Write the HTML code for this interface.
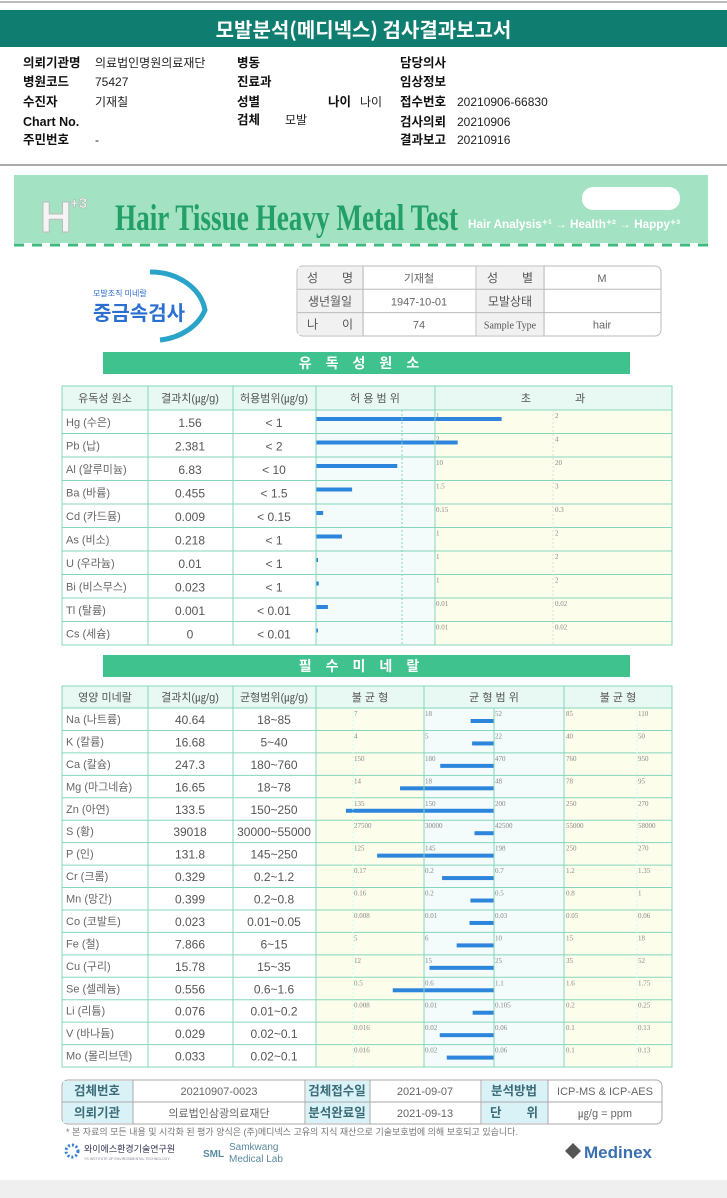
<!DOCTYPE html>
<html><head><meta charset="utf-8">
<style>
body{margin:0;width:727px;height:1198px;background:#fff;position:relative;overflow:hidden;font-family:"Liberation Sans","Noto Sans CJK KR",sans-serif;}
.abs{position:absolute;white-space:nowrap}
.lab{font-weight:bold;font-size:12.5px;color:#111;line-height:16px}
.val{font-size:12px;color:#222;line-height:16px}
</style></head><body>
<div class="abs" style="left:0;top:1px;width:727px;height:2px;background:#bbb"></div>
<div class="abs" style="left:0;top:10px;width:727px;height:37px;background:#0f7d6f;color:#fff;font-size:20px;font-weight:bold;text-align:center;line-height:37px;font-family:'Noto Sans CJK KR',sans-serif">모발분석(메디넥스) 검사결과보고서</div>
<div>
<span class="abs lab" style="left:23px;top:55px">의뢰기관명</span><span class="abs val" style="left:95px;top:55px">의료법인명원의료재단</span>
<span class="abs lab" style="left:23px;top:74px">병원코드</span><span class="abs val" style="left:95px;top:74px">75427</span>
<span class="abs lab" style="left:23px;top:94px">수진자</span><span class="abs val" style="left:95px;top:94px">기재칠</span>
<span class="abs lab" style="left:23px;top:114px">Chart No.</span>
<span class="abs lab" style="left:23px;top:132px">주민번호</span><span class="abs val" style="left:95px;top:132px">-</span>
<span class="abs lab" style="left:237px;top:55px">병동</span>
<span class="abs lab" style="left:237px;top:74px">진료과</span>
<span class="abs lab" style="left:237px;top:94px">성별</span>
<span class="abs lab" style="left:328px;top:94px">나이</span><span class="abs val" style="left:360px;top:94px">나이</span>
<span class="abs lab" style="left:237px;top:112px">검체</span><span class="abs val" style="left:285px;top:112px">모발</span>
<span class="abs lab" style="left:400px;top:55px">담당의사</span>
<span class="abs lab" style="left:400px;top:74px">임상정보</span>
<span class="abs lab" style="left:400px;top:94px">접수번호</span><span class="abs val" style="left:457px;top:94px">20210906-66830</span>
<span class="abs lab" style="left:400px;top:114px">검사의뢰</span><span class="abs val" style="left:457px;top:114px">20210906</span>
<span class="abs lab" style="left:400px;top:132px">결과보고</span><span class="abs val" style="left:457px;top:132px">20210916</span>
</div>
<div class="abs" style="left:0;top:164px;width:727px;height:2px;background:#aaa"></div>
<div class="abs" style="left:0;top:1180px;width:727px;height:18px;background:#efefef"></div>

<svg id="chart" class="abs" style="left:0;top:0" width="727" height="1198" font-family="Liberation Sans, Noto Sans CJK KR, sans-serif"></svg>

<script>
const toxNames=["Hg (수은)","Pb (납)","Al (알루미늄)","Ba (바륨)","Cd (카드뮴)","As (비소)","U (우라늄)","Bi (비스무스)","Tl (탈륨)","Cs (세슘)"];
const toxValues=[1.56,2.381,6.83,0.455,0.009,0.218,0.01,0.023,0.001,0];
const toxLimits=[1,2,10,1.5,0.15,1,1,1,0.01,0.01];
const toxLimitLabels=["< 1","< 2","< 10","< 1.5","< 0.15","< 1","< 1","< 1","< 0.01","< 0.01"];
const toxTick2=["2","4","20","3","0.3","2","2","2","0.02","0.02"];

const minNames=["Na (나트륨)","K (칼륨)","Ca (칼슘)","Mg (마그네슘)","Zn (아연)","S (황)","P (인)","Cr (크롬)","Mn (망간)","Co (코발트)","Fe (철)","Cu (구리)","Se (셀레늄)","Li (리튬)","V (바나듐)","Mo (몰리브덴)"];
const minValues=[40.64,16.68,247.3,16.65,133.5,39018,131.8,0.329,0.399,0.023,7.866,15.78,0.556,0.076,0.029,0.033];
const minRanges=["18~85","5~40","180~760","18~78","150~250","30000~55000","145~250","0.2~1.2","0.2~0.8","0.01~0.05","6~15","15~35","0.6~1.6","0.01~0.2","0.02~0.1","0.02~0.1"];
const minTicks=[[7,18,52,85,110],[4,5,22,40,50],[150,180,470,760,950],[14,18,48,78,95],[135,150,200,250,270],[27500,30000,42500,55000,58000],[125,145,198,250,270],[0.17,0.2,0.7,1.2,1.35],[0.16,0.2,0.5,0.8,1],[0.008,0.01,0.03,0.05,0.06],[5,6,10,15,18],[12,15,25,35,52],[0.5,0.6,1.1,1.6,1.75],[0.008,0.01,0.105,0.2,0.25],[0.016,0.02,0.06,0.1,0.13],[0.016,0.02,0.06,0.1,0.13]];

const svg=document.getElementById('chart');
const NS='http://www.w3.org/2000/svg';
function mk(tag,attrs,txt,name){const e=document.createElementNS(NS,tag);for(const k in attrs)e.setAttribute(k,attrs[k]);if(txt!==undefined)e.textContent=txt;


svg.appendChild(e);return e;}
const G='#86d6bb', TXT='#555', BAR='#2e86dc';

// banner
mk('rect',{x:14,y:175,width:694,height:68,fill:'#a3e2c3'},undefined,'banner');
mk('text',{x:40,y:232,'font-size':44,'font-weight':'bold',fill:'#f4f4f4',stroke:'#bbb','stroke-width':1},'H','banner-h-logo');
mk('text',{x:70,y:208,'font-size':15,'font-weight':'bold',fill:'#f4f4f4',stroke:'#aaa','stroke-width':0.5},'+3','banner-h-sup');
mk('text',{x:115,y:230,'font-size':37,'font-weight':'bold',fill:'#22a068','font-family':'Liberation Serif, serif',textLength:343,lengthAdjust:'spacingAndGlyphs'},'Hair Tissue Heavy Metal Test','banner-title');
mk('text',{x:468,y:228,'font-size':12,'font-weight':'bold',fill:'#fff',textLength:212,lengthAdjust:'spacingAndGlyphs'},'Hair Analysis⁺¹ → Health⁺² → Happy⁺³','banner-slogan');
mk('rect',{x:582,y:187,width:98,height:23,rx:11,fill:'#fff'},undefined,'banner-badge');
mk('line',{x1:14,y1:245,x2:708,y2:245,stroke:'#3dbb7e','stroke-width':3,'stroke-dasharray':'10 8'},undefined,'banner-dashes');

// logo
mk('path',{d:'M150 272 A55 45 0 0 1 205 310 A55 45 0 0 1 160 340',fill:'none',stroke:'#2aa3c8','stroke-width':5},undefined,'logo-arc');
mk('text',{x:93,y:296,'font-size':8,fill:'#2b6fd0'},'모발조직 미네랄','logo-subtitle');
mk('text',{x:93,y:320,'font-size':20,'font-weight':'bold',fill:'#2b6fd0'},'중금속검사','logo-title');

// patient table
mk('rect',{x:297,y:266,width:364,height:70,rx:6,fill:'#fff',stroke:'#bbb'},undefined,'patient-table');
[[297,363],[476,544]].forEach(c=>mk('rect',{x:c[0]+1,y:267,width:c[1]-c[0],height:68,fill:'#f1f1f1'},undefined,'patient-label-col'));
[363,476,544].forEach(x=>mk('line',{x1:x,y1:266,x2:x,y2:336,stroke:'#bbb'},undefined,'patient-col-line'));
[289.3,312.6].forEach(y=>mk('line',{x1:297,y1:y,x2:661,y2:y,stroke:'#bbb'},undefined,'patient-row-line'));
const pRows=[["성　　명","기재철","성　　별","M"],["생년월일","1947-10-01","모발상태",""],["나　　이","74","Sample Type","hair"]];
const pCx=[330,419,510,602];
pRows.forEach((r,i)=>r.forEach((t,j)=>mk('text',{x:pCx[j],y:282+i*23.3,'font-size':j%2?11:(t==='Sample Type'?10:12),'text-anchor':'middle',fill:j%2?'#666':'#555','font-family':t==='Sample Type'?'Liberation Serif, serif':'Liberation Sans, Noto Sans CJK KR, sans-serif'},t,'patient-cell')));

// section bars
function section(y,t,name){mk('rect',{x:103,y:y,width:527,height:22,fill:'#3fc28d'},undefined,name);
mk('text',{x:366,y:y+16,'font-size':14,'font-weight':'bold',fill:'#fff','text-anchor':'middle','letter-spacing':'14'},t,name+'-label');}
section(352,'유독성원소','toxic-section-header');
section(655,'필수미네랄','mineral-section-header');

// ---- toxic table
const TT=386,TH=24,TR=23.5,TL=62,TRt=672;
const tCols=[62,148,233,316,435,672];
const tN=toxNames.length, tBot=TT+TH+tN*TR;
mk('rect',{x:TL,y:TT,width:TRt-TL,height:TH,fill:'#e8f8f3'},undefined,'toxic-header-row');
mk('rect',{x:435,y:TT+TH,width:237,height:tN*TR,fill:'#fdfdec'},undefined,'toxic-excess-zone');
mk('rect',{x:316,y:TT+TH,width:119,height:tN*TR,fill:'#f3fbfb'},undefined,'toxic-allowed-zone');
const tHead=["유독성 원소","결과치(㎍/g)","허용범위(㎍/g)","허 용 범 위","초　　　　과"];
const tHx=[105,190,274,375,553];
tHead.forEach((t,i)=>mk('text',{x:tHx[i],y:TT+16,'font-size':11,fill:TXT,'text-anchor':'middle'},t,'toxic-column-header'));
const SC=119;
function tx(v,lim){return 316+v/lim*SC;}
for(let i=0;i<tN;i++){
 const y=TT+TH+i*TR;
 mk('line',{x1:TL,y1:y,x2:TRt,y2:y,stroke:G},undefined,'toxic-row-line');
 mk('text',{x:66,y:y+16,'font-size':11,fill:'#666'},toxNames[i],'toxic-element-name');
 mk('text',{x:190,y:y+17,'font-size':12,fill:TXT,'text-anchor':'middle'},String(toxValues[i]),'toxic-value');
 mk('text',{x:274,y:y+17,'font-size':12,fill:TXT,'text-anchor':'middle'},toxLimitLabels[i],'toxic-limit');
 mk('text',{x:tx(toxLimits[i],toxLimits[i])+1,y:y+8,'font-size':7,fill:'#888','font-family':'Liberation Serif, serif'},String(toxLimits[i]),'toxic-tick-1x');
 mk('text',{x:tx(2*toxLimits[i],toxLimits[i])+1,y:y+8,'font-size':7,fill:'#888','font-family':'Liberation Serif, serif'},toxTick2[i],'toxic-tick-2x');
 const w=Math.max(2,toxValues[i]/toxLimits[i]*SC);
 mk('rect',{x:316,y:y+7,width:w,height:4,fill:BAR},undefined,'toxic-bar-'+toxNames[i].split(' ')[0]);
}
mk('line',{x1:402,y1:TT+TH,x2:402,y2:tBot,stroke:G,'stroke-dasharray':'2 2'},undefined,'toxic-grid-dash');
mk('line',{x1:553,y1:TT+TH,x2:553,y2:tBot,stroke:'#dde','stroke-dasharray':'2 2'},undefined,'toxic-grid-dash');
tCols.forEach(x=>mk('line',{x1:x,y1:TT,x2:x,y2:tBot,stroke:G},undefined,'toxic-col-line'));
mk('rect',{x:TL,y:TT,width:TRt-TL,height:tBot-TT,fill:'none',stroke:G},undefined,'toxic-table-border');

// ---- mineral table
const MT=686,MH=22,MR=22.44,mN=minNames.length,mBot=MT+MH+mN*MR;
const tickX=[353,424,494,565,637];
mk('rect',{x:TL,y:MT,width:TRt-TL,height:MH,fill:'#e8f8f3'},undefined,'mineral-header-row');
mk('rect',{x:316,y:MT+MH,width:108,height:mN*MR,fill:'#fdfdec'},undefined,'mineral-low-zone');
mk('rect',{x:424,y:MT+MH,width:140,height:mN*MR,fill:'#f3fbfb'},undefined,'mineral-balance-zone');
mk('rect',{x:564,y:MT+MH,width:108,height:mN*MR,fill:'#fdfdec'},undefined,'mineral-high-zone');
const mHead=["영양 미네랄","결과치(㎍/g)","균형범위(㎍/g)","불 균 형","균 형 범 위","불 균 형"];
const mHx=[105,190,274,370,494,618];
mHead.forEach((t,i)=>mk('text',{x:mHx[i],y:MT+15,'font-size':11,fill:TXT,'text-anchor':'middle'},t,'mineral-column-header'));
function mx(v,t){let k=0;if(v>=t[1])k=1;if(v>=t[2])k=2;if(v>=t[3])k=3;
 return tickX[k]+(v-t[k])/(t[k+1]-t[k])*(tickX[k+1]-tickX[k]);}
for(let i=0;i<mN;i++){
 const y=MT+MH+i*MR;
 mk('line',{x1:TL,y1:y,x2:TRt,y2:y,stroke:G},undefined,'mineral-row-line');
 mk('text',{x:66,y:y+15,'font-size':11,fill:'#666'},minNames[i],'mineral-element-name');
 mk('text',{x:190,y:y+16,'font-size':12,fill:TXT,'text-anchor':'middle'},String(minValues[i]),'mineral-value');
 mk('text',{x:274,y:y+16,'font-size':12,fill:TXT,'text-anchor':'middle'},minRanges[i],'mineral-range');
 minTicks[i].forEach((t,j)=>mk('text',{x:tickX[j]+1,y:y+8,'font-size':7,fill:'#888','font-family':'Liberation Serif, serif'},String(t),'mineral-tick'));
 const x0=Math.min(mx(minValues[i],minTicks[i]),492);
 mk('rect',{x:x0,y:y+11,width:494-x0,height:4,fill:BAR},undefined,'mineral-bar-'+minNames[i].split(' ')[0]);
}
[353,637].forEach(x=>mk('line',{x1:x,y1:MT+MH,x2:x,y2:mBot,stroke:'#cfe','stroke-dasharray':'2 2'},undefined,'mineral-grid-dash'));
[62,148,233,316,424,494,564,672].forEach(x=>mk('line',{x1:x,y1:(x==494?MT+MH:MT),x2:x,y2:mBot,stroke:G},undefined,'mineral-col-line'));
mk('rect',{x:TL,y:MT,width:TRt-TL,height:mBot-MT,fill:'none',stroke:G},undefined,'mineral-table-border');

// ---- bottom info table
const BT=1080,BR=22;
mk('rect',{x:62,y:BT,width:600,height:44,rx:6,fill:'#fff',stroke:'#aaa'},undefined,'sample-info-table');
[[62,133],[305,370],[481,548]].forEach(c=>mk('rect',{x:c[0]+1,y:BT+1,width:c[1]-c[0]-1,height:42,fill:'#d9f2f7'},undefined,'sample-label-col'));
[133,305,370,481,548].forEach(x=>mk('line',{x1:x,y1:BT,x2:x,y2:BT+44,stroke:'#aaa'},undefined,'sample-col-line'));
mk('line',{x1:62,y1:BT+BR,x2:662,y2:BT+BR,stroke:'#aaa'},undefined,'sample-row-line');
const bRows=[["검체번호","20210907-0023","검체접수일","2021-09-07","분석방법","ICP-MS & ICP-AES"],["의뢰기관","의료법인삼광의료재단","분석완료일","2021-09-13","단　　위","㎍/g = ppm"]];
const bCx=[97,219,337,425,514,605];
bRows.forEach((r,i)=>r.forEach((t,j)=>mk('text',{x:bCx[j],y:BT+15+i*BR,'font-size':j%2?11:12.5,'font-weight':j%2?'normal':'bold','text-anchor':'middle',fill:j%2?'#666':'#3a6b77'},t,'sample-cell')));
mk('text',{x:66,y:1135,'font-size':9,fill:'#777'},'* 본 자료의 모든 내용 및 시각화 된 평가 양식은 (주)메디넥스 고유의 지식 재산으로 기술보호법에 의해 보호되고 있습니다.','copyright-note');
mk('circle',{cx:72,cy:1151,r:6,fill:'none',stroke:'#3a7fd0','stroke-width':3,'stroke-dasharray':'2 2'},undefined,'ys-logo-mark');
mk('text',{x:84,y:1152,'font-size':9,fill:'#335'},'와이에스환경기술연구원','ys-logo-text');
mk('text',{x:84,y:1160,'font-size':3.5,fill:'#889'},'YS INSTITUTE OF ENVIRONMENTAL TECHNOLOGY','ys-logo-sub');
mk('text',{x:203,y:1157,'font-size':10,'font-weight':'bold',fill:'#5a8aa0'},'SML','sml-logo-mark');
mk('text',{x:229,y:1150,'font-size':10,fill:'#5a8aa0'},'Samkwang','sml-name-1');
mk('text',{x:229,y:1162,'font-size':10,fill:'#5a8aa0'},'Medical Lab','sml-name-2');
mk('path',{d:'M573 1143 l8 8 l-8 8 l-8 -8z',fill:'#555'},undefined,'medinex-mark');
mk('text',{x:584,y:1158,'font-size':17,'font-weight':'bold',fill:'#3a6fb0'},'Medinex','medinex-logo');
</script>
</body></html>
